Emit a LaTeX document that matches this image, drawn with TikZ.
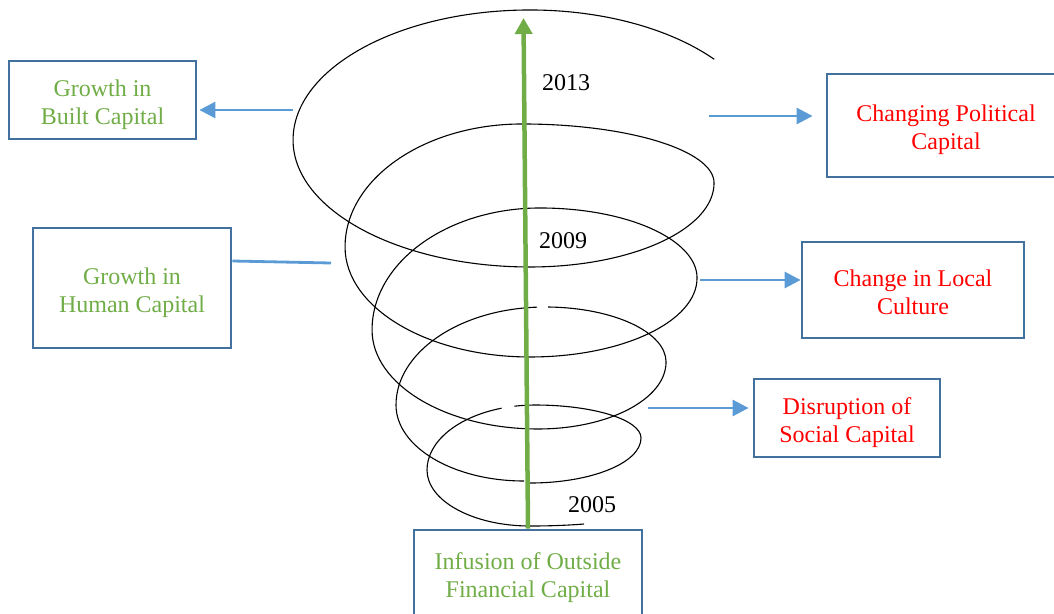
\documentclass[tikz,border=0pt]{standalone}
\usepackage{fontspec}
\setmainfont{Liberation Serif}
\usetikzlibrary{arrows.meta,calc}
\definecolor{boxblue}{HTML}{41719C}
\definecolor{arrowblue}{HTML}{5B9BD5}
\definecolor{leafgreen}{HTML}{70AD47}
\definecolor{alertred}{HTML}{FF0000}
\begin{document}
\begin{tikzpicture}[x=1pt,y=-1pt,
  capbox/.style={draw=boxblue,line width=2.8pt,align=center,inner sep=0pt,
                 text height=51pt,text depth=3pt,
                 font=\fontsize{24}{28}\selectfont},
  gain/.style={capbox,text=leafgreen},
  loss/.style={capbox,text=alertred},
  flow/.style={draw=arrowblue,line width=2.8pt,-{Triangle[length=16pt,width=16pt]}},
  link/.style={draw=arrowblue,line width=2.8pt},
  growth/.style={draw=leafgreen,line width=4.5pt,-{Triangle[length=16pt,width=17pt]}},
  coil/.style={draw=black,line width=1.1pt},
  year/.style={font=\fontsize{24}{28}\selectfont,inner sep=0pt}]
\useasboundingbox (0,0) rectangle (1054,613);

% capital boxes
\node[gain,minimum width=187pt,minimum height=78pt]  (built)     at (102.5,100) {Growth in\\Built Capital};
\node[gain,minimum width=198pt,minimum height=120pt] (human)     at (132,288)   {Growth in\\Human Capital};
\node[loss,minimum width=238pt,minimum height=103pt] (political) at (946,125.5) {Changing Political\\Capital};
\node[loss,minimum width=222pt,minimum height=96pt]  (local)     at (913,290)   {Change in Local\\Culture};
\node[loss,minimum width=186pt,minimum height=78pt]  (social)    at (847,418)   {Disruption of\\Social Capital};
\node[gain,minimum width=228pt,minimum height=86pt]  (infusion)  at (528,573)   {Infusion of Outside\\Financial Capital};

% the rising coil, drawn as a chain of quarter ellipses
\draw[coil] (584,524)
  arc[start angle=60,end angle=90,x radius=108,y radius=15]
  arc[start angle=90,end angle=180,x radius=103,y radius=56]
  arc[start angle=180,end angle=252,x radius=108,y radius=65];
\draw[coil] (514.4,406.2)
  arc[start angle=259,end angle=270,x radius=108,y radius=65]
  arc[start angle=270,end angle=360,x radius=106,y radius=33]
  arc[start angle=0,end angle=90,x radius=111,y radius=45];
\draw[coil] (524,481)
  arc[start angle=90,end angle=180,x radius=128,y radius=76]
  arc[start angle=180,end angle=267,x radius=149,y radius=98];
\draw[coil] (548,307)
  arc[start angle=271.4,end angle=360,x radius=121,y radius=55]
  arc[start angle=0,end angle=90,x radius=128,y radius=67]
  arc[start angle=90,end angle=180,x radius=166,y radius=99]
  arc[start angle=180,end angle=270,x radius=168,y radius=122]
  arc[start angle=270,end angle=360,x radius=157,y radius=70]
  arc[start angle=0,end angle=90,x radius=167,y radius=79]
  arc[start angle=90,end angle=180,x radius=185,y radius=110]
  arc[start angle=180,end angle=270,x radius=177,y radius=123]
  arc[start angle=270,end angle=360,x radius=192,y radius=59]
  arc[start angle=0,end angle=90,x radius=184,y radius=84]
  arc[start angle=90,end angle=180,x radius=237,y radius=127]
  arc[start angle=180,end angle=270,x radius=237,y radius=130]
  arc[start angle=270,end angle=321,x radius=237,y radius=133];

% outward effects
\coordinate (bs) at (293,110);
\coordinate (hs) at (331,263);
\coordinate (he) at (0,261);
\coordinate (ps) at (709,116);
\coordinate (ls) at (700,280);
\coordinate (ss) at (648,408);
\draw[flow,shorten >=2pt]  (bs) -- (built.east |- bs);
\draw[link]                (hs) -- (human.east |- he);
\draw[flow,shorten >=13pt] (ps) -- (political.west |- ps);
\draw[flow]                (ls) -- (local.west |- ls);
\draw[flow,shorten >=4pt]  (ss) -- (social.west |- ss);

% central growth axis
\coordinate (apex) at (523.5,18);
\draw[growth] (infusion.north) -- (apex);

% years
\node[year] (y2013) at (566,83)  {2013};
\node[year] (y2009) at (563,241) {2009};
\node[year] (y2005) at (592,505) {2005};
\end{tikzpicture}
\end{document}
